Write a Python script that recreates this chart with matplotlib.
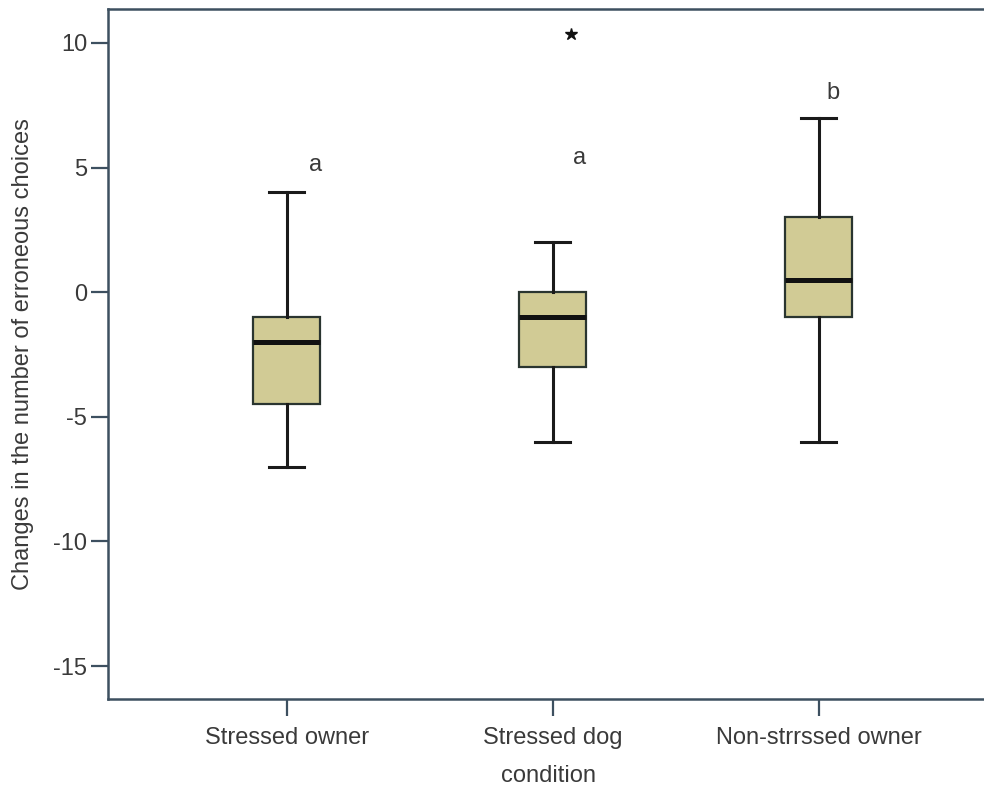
import matplotlib.pyplot as plt

plt.rcParams['font.family'] = ['Liberation Sans', 'DejaVu Sans']
plt.rcParams['axes.unicode_minus'] = False

# data
conditions = ['Stressed owner', 'Stressed dog', 'Non-strrssed owner']
whisker_low = [-7, -6, -6]
q1 = [-4.5, -3, -1]
median = [-2, -1, 0.5]
q3 = [-1, 0, 3]
whisker_high = [4, 2, 7]
outlier_cond = 1          # index of the group with the extreme value
outlier_value = 10.35
letters = ['a', 'a', 'b']
letter_y = [5.1, 5.4, 8.0]

stats = []
for i, name in enumerate(conditions):
    stats.append({'label': name, 'whislo': whisker_low[i], 'q1': q1[i],
                  'med': median[i], 'q3': q3[i], 'whishi': whisker_high[i],
                  'fliers': []})

fig = plt.figure(figsize=(9.84, 7.93), dpi=100)
ax = fig.add_axes([0.1098, 0.1185, 0.895, 0.8702])

spine_col = '#3d5060'
text_col = '#3a3a3a'

ax.bxp(stats, positions=[1, 2, 3], widths=0.25, capwidths=0.13,
       patch_artist=True, showfliers=False,
       boxprops=dict(facecolor='#d1cb95', edgecolor='#2a3530', linewidth=1.6),
       medianprops=dict(color='#111111', linewidth=3.6),
       whiskerprops=dict(color='#1a1a1a', linewidth=2.2),
       capprops=dict(color='#1a1a1a', linewidth=2.2))

# extreme value
ax.plot(outlier_cond + 1 + 0.07, outlier_value, marker='*', color='#111111',
        markersize=9, linestyle='none')

# group letters
offsets = [0.11, 0.10, 0.055]
for i, (lt, y) in enumerate(zip(letters, letter_y)):
    ax.text(i + 1 + offsets[i], y, lt, ha='center', va='center',
            fontsize=17, color=text_col)

ax.set_xlim(0.328, 3.64)
ax.set_ylim(-16.32, 11.36)
ax.set_yticks([10, 5, 0, -5, -10, -15])
ax.set_xticks([1, 2, 3])
ax.set_xticklabels(conditions)

ax.tick_params(axis='both', colors=spine_col, width=1.6, length=12,
               labelsize=17, labelcolor=text_col)
ax.tick_params(axis='x', pad=8)
ax.tick_params(axis='y', pad=3)

for s in ax.spines.values():
    s.set_color(spine_col)
    s.set_linewidth(1.8)
ax.spines['right'].set_visible(False)

ax.set_ylabel('Changes in the number of erroneous choices', fontsize=17,
              color=text_col, labelpad=14)
ax.set_xlabel('condition', fontsize=17, color=text_col, labelpad=12)

fig.savefig('out.png', dpi=100)
